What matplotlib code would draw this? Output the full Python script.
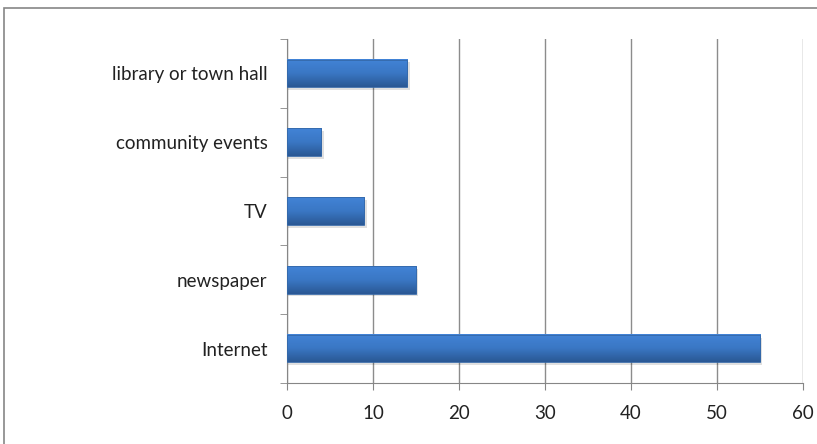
import numpy as np
import matplotlib.pyplot as plt
from matplotlib.patches import Rectangle
from matplotlib.colors import LinearSegmentedColormap

categories = ['Internet', 'newspaper', 'TV', 'community events', 'library or town hall']
values = [55, 15, 9, 4, 14]
xticks = [0, 10, 20, 30, 40, 50, 60]

plt.rcParams['font.family'] = ['Lato', 'DejaVu Sans']

fig = plt.figure(figsize=(8.17, 4.44), dpi=100)
ax = fig.add_axes([0.3513, 0.1374, 0.6316, 0.7748])

# outer chart border (cut off on right and bottom like the screenshot)
fig.patches.append(Rectangle((4 / 817, -0.1), 1.2, 1 - 8 / 444 + 0.1,
                             transform=fig.transFigure, fill=False,
                             edgecolor='#868686', linewidth=1.2))

cmap = LinearSegmentedColormap.from_list('bar', ['#2a5894', '#3a77c4', '#4283d6'])
grad = np.linspace(0, 1, 64).reshape(-1, 1)
h = 0.4
y = np.arange(len(categories))
for yi, v in zip(y, values):
    # soft shadow
    ax.add_patch(Rectangle((0, yi - h / 2 - 0.04), v + 0.25, h, facecolor='#000000',
                           alpha=0.12, linewidth=0, zorder=2))
    ax.imshow(grad, aspect='auto', cmap=cmap, extent=(0, v, yi - h / 2, yi + h / 2),
              origin='lower', zorder=3)
    ax.add_patch(Rectangle((0, yi - h / 2), v, h, fill=False,
                           edgecolor='#3468a8', linewidth=0.6, zorder=4))

ax.set_xlim(0, 60)
ax.set_ylim(-0.5, len(categories) - 0.5)
ax.set_xticks(xticks)
ax.set_yticks(y)
ax.set_yticklabels(categories)
ax.set_yticks(np.arange(-0.5, len(categories)), minor=True)
ax.tick_params(axis='y', which='major', length=0, pad=14, labelsize=13.5, colors='#222222')
ax.tick_params(axis='y', which='minor', length=5, color='#868686')
ax.tick_params(axis='x', length=5, pad=11, labelsize=13.5, colors='#222222', color='#868686')
ax.xaxis.grid(True, color='#8c8c8c', linewidth=1)
ax.set_axisbelow(True)
for s in ['top', 'right']:
    ax.spines[s].set_visible(False)
for s in ['left', 'bottom']:
    ax.spines[s].set_color('#868686')

fig.savefig('out.png', dpi=100)
